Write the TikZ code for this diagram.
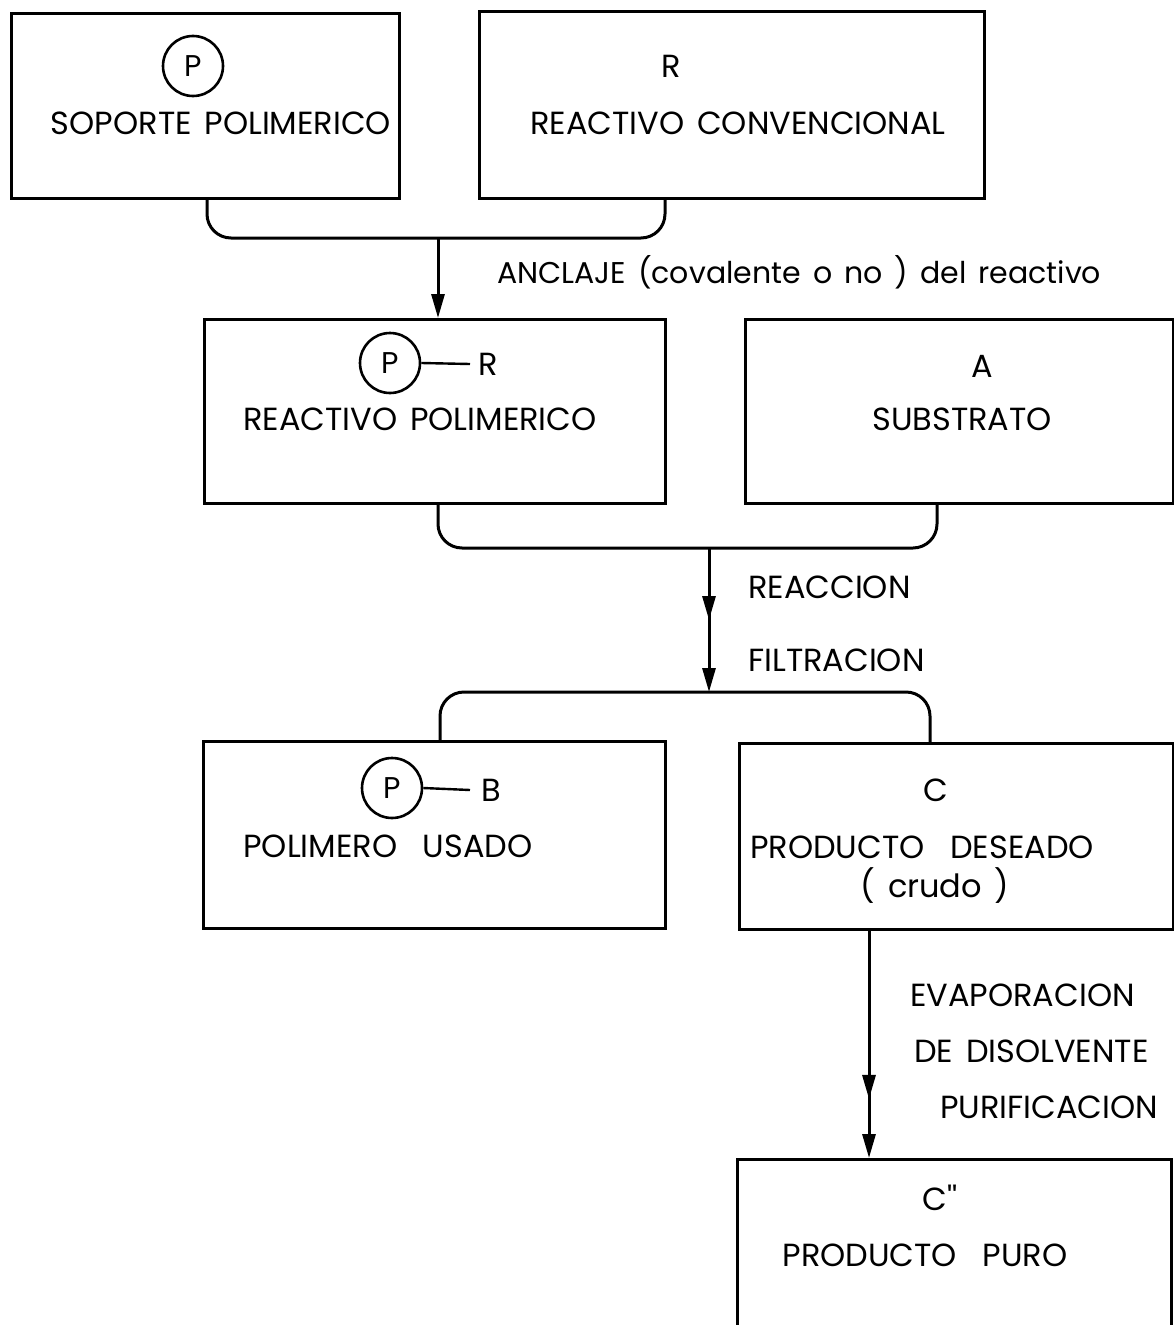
\documentclass[tikz,border=0pt]{standalone}
\usepackage{fontspec}
\setmainfont{Poppins}[WordSpace=1.5]
\newfontfamily\nomapfont{Poppins}[Ligatures=TeXOff]
\usetikzlibrary{arrows.meta,decorations.markings}
\tikzset{
  box/.style={draw,line width=3pt,rectangle,inner sep=0pt,anchor=north west},
  txt/.style={inner sep=0pt,font=\fontsize{32}{36}\selectfont},
  pcirc/.style={draw,circle,line width=2.6pt,minimum size=60pt,inner sep=0pt,font=\fontsize{30}{34}\selectfont},
  bracket/.style={line width=3pt,rounded corners=24pt},
  tip/.style={-{Triangle[length=24pt,width=13pt]}},
  arrowline/.style={line width=3pt,tip},
  midtip/.style={postaction={decorate},decoration={markings,mark=at position #1 with {\arrow{Triangle[length=24pt,width=13pt]}}}}
}
\begin{document}
\begin{tikzpicture}[x=1pt,y=-1pt]
\useasboundingbox (0,0) rectangle (1174,1325);
% boxes
\node[box,minimum width=388pt,minimum height=185pt] (b1) at (10,12) {};
\node[box,minimum width=505pt,minimum height=187pt] (b2) at (478,10) {};
\node[box,minimum width=461pt,minimum height=184pt] (b3) at (203,318) {};
\node[box,minimum width=428pt,minimum height=184pt] (b4) at (744,318) {};
\node[box,minimum width=462pt,minimum height=187pt] (b5) at (202,740) {};
\node[box,minimum width=434pt,minimum height=186pt] (b6) at (738,742) {};
\node[box,minimum width=434pt,minimum height=180pt] (b7) at (736,1158) {};
% box texts
\node[pcirc] (p1) at (193,66) {P};
\node[txt] (t1) at (221,123) {SOPORTE POLIMERICO};
\node[txt] (r2) at (671,66) {R};
\node[txt] (t2) at (738,123) {REACTIVO CONVENCIONAL};
\node[pcirc] (p3) at (390,363) {P};
\node[txt] (r3) at (488,364) {R};
\draw[line width=2.4pt] (p3.east) -- (r3.west -| 470,0);
\node[txt] (t3) at (420,419) {REACTIVO POLIMERICO};
\node[txt] (a4) at (982,366) {A};
\node[txt] (t4) at (962,419) {SUBSTRATO};
\node[pcirc] (p5) at (392,788) {P};
\node[txt] (b5l) at (491,790) {B};
\draw[line width=2.4pt] (p5.east) -- (b5l.west -| 470,0);
\node[txt] (t5) at (388,846) {POLIMERO\ \ USADO};
\node[txt] (c6) at (936,790) {C};
\node[txt] (t6) at (922,847) {PRODUCTO\ \ DESEADO};
\node[txt] (t6b) at (935,886) {(\ crudo\ )};
\node[txt] (c7) at (940,1198) {C{\nomapfont''}};
\node[txt] (t7) at (925,1255) {PRODUCTO\ \ PURO};
% labels
\node[txt,anchor=west,font=\fontsize{30}{34}\selectfont] (l1) at (497,272) {ANCLAJE (covalente o no ) del reactivo};
\node[txt,anchor=west] (l2) at (748,587) {REACCION};
\node[txt,anchor=west] (l3) at (748,660) {FILTRACION};
\node[txt,anchor=west] (l4) at (910,995) {EVAPORACION};
\node[txt,anchor=west] (l5) at (914,1051) {DE DISOLVENTE};
\node[txt,anchor=west] (l6) at (940,1107) {PURIFICACION};
% junctions
\coordinate (j1) at (438,238);
\coordinate (j2) at (709,548);
\coordinate (j3) at (709,692);
% brackets
\draw[bracket] (b1.south -| 207,0) -- (207,238) -- (665,238) -- (b2.south -| 665,0);
\draw[bracket] (b3.south -| 438,0) -- (438,548) -- (937,548) -- (b4.south -| 937,0);
\draw[bracket] (b5.north -| 440,0) -- (440,692) -- (930,692) -- (b6.north -| 930,0);
% arrows
\draw[arrowline] (j1) -- (b3.north -| j1);
\draw[arrowline,midtip=0.5] (j2) -- (j3);
\draw[arrowline,midtip=0.74] (b6.south -| 869,0) -- (b7.north -| 869,0);
\end{tikzpicture}
\end{document}
